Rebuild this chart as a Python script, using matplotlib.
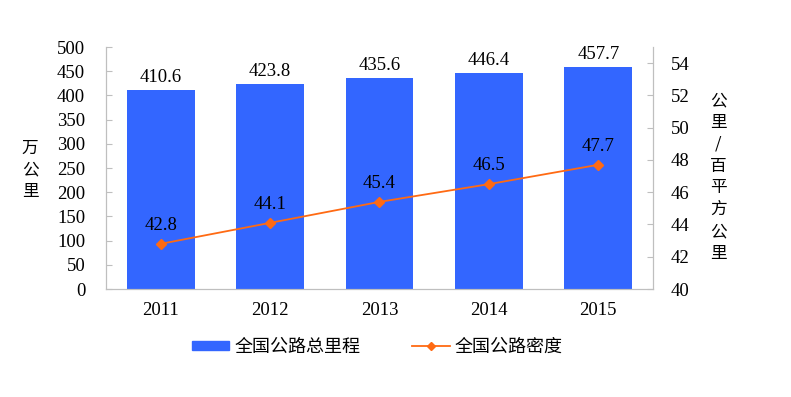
import matplotlib
matplotlib.use("Agg")
import matplotlib.pyplot as plt
import numpy as np
from matplotlib.lines import Line2D
from matplotlib.patches import Patch

years = ["2011", "2012", "2013", "2014", "2015"]
mileage = [410.6, 423.8, 435.6, 446.4, 457.7]
density = [42.8, 44.1, 45.4, 46.5, 47.7]
bar_name = "全国公路总里程"
line_name = "全国公路密度"

cjk = ["Noto Sans CJK SC", "DejaVu Sans"]
serif = "Liberation Serif"
bar_color = "#3366FF"
line_color = "#FF6A13"
spine_color = "#BFBFBF"
fs = 13.5

fig = plt.figure(figsize=(7.91, 3.97), dpi=100)
ax = fig.add_axes([0.134, 0.272, 0.6915, 0.6096])
ax2 = ax.twinx()

x = np.arange(len(years))
ax.bar(x, mileage, width=0.62, color=bar_color, zorder=2)
ax.set_xlim(-0.5, len(years) - 0.5)
ax.set_ylim(0, 500)
ax.set_yticks(np.arange(0, 501, 50))
ax.set_xticks(x)
ax.set_xticklabels(years, fontfamily=serif, fontsize=fs)
for lbl in ax.get_yticklabels():
    lbl.set_fontfamily(serif)
    lbl.set_fontsize(fs)
for xi, v in zip(x, mileage):
    ax.annotate(f"{v}", (xi, v), xytext=(0, 3), textcoords="offset points",
                ha="center", va="bottom", fontfamily=serif, fontsize=fs)

ax2.plot(x, density, color=line_color, marker="D", markersize=5, linewidth=1.3, zorder=3)
ax2.set_ylim(40, 55)
ax2.set_yticks(np.arange(40, 55, 2))
for lbl in ax2.get_yticklabels():
    lbl.set_fontfamily(serif)
    lbl.set_fontsize(fs)
for xi, v in zip(x, density):
    ax2.annotate(f"{v}", (xi, v), xytext=(0, 7), textcoords="offset points",
                 ha="center", va="bottom", fontfamily=serif, fontsize=fs)

for a in (ax, ax2):
    a.spines["top"].set_visible(False)
    for s in ("left", "right", "bottom"):
        a.spines[s].set_color(spine_color)
    a.tick_params(axis="y", direction="in", length=4, color=spine_color)
ax.tick_params(axis="x", length=0, pad=9)
ax.tick_params(axis="y", pad=15)
ax2.tick_params(axis="y", pad=13)

fig.text(0.038, 0.572, "万\n公\n里", ha="center", va="center",
         fontfamily=cjk, fontsize=12, linespacing=1.37)
fig.text(0.908, 0.554, "公\n里\n/\n百\n平\n方\n公\n里", ha="center", va="center",
         fontfamily=cjk, fontsize=12, linespacing=1.37)

handles = [Patch(color=bar_color),
           Line2D([0], [0], color=line_color, marker="D", markersize=4, linewidth=1.3)]
leg = fig.legend(handles, [bar_name, line_name], loc="center", ncol=2,
                 bbox_to_anchor=(0.477, 0.126), frameon=False,
                 prop={"family": cjk, "size": 13}, handlelength=2.05,
                 handleheight=0.45, columnspacing=2.9, handletextpad=0.3)

fig.savefig("out.png", dpi=100)
